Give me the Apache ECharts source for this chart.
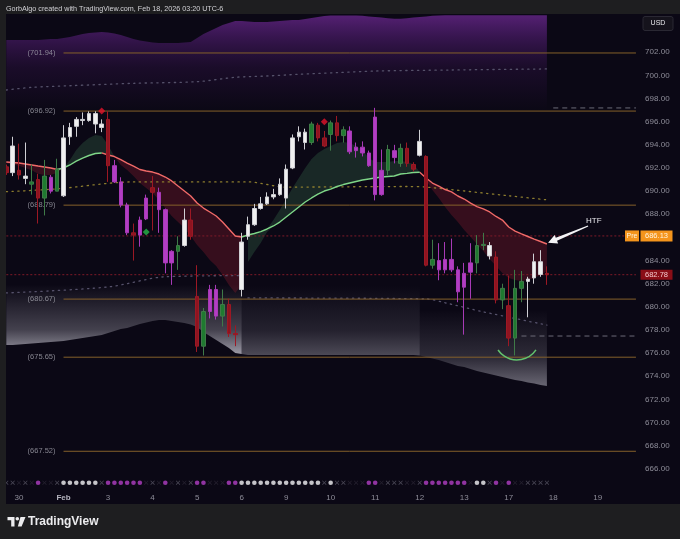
<!DOCTYPE html>
<html><head><meta charset="utf-8">
<script src="https://cdn.jsdelivr.net/npm/echarts@6/dist/echarts.min.js"></script>
<style>html,body{margin:0;padding:0;background:#0b0815;}#c{width:680px;height:539px;}</style>
</head><body><div id="c"></div>
<script>
// ---------- time axis ----------
const dayLabels = ['29','30','Feb','3','4','5','6','9','10','11','12','13','17','18','19'];
const BARS_PER_DAY = 7;
const FIRST_DAY_OFFSET = 5;

// ---------- candles (hourly) ----------
const openP  = [692.1,691.6,691.8,691.1,690.6,691.0,689.4,691.2,690.0,689.6,694.7,695.6,696.1,696.1,696.7,695.8,696.2,692.2,690.8,688.8,686.4,686.2,687.6,690.3,689.9,688.4,683.8,684.8,685.3,687.5,680.9,676.6,679.6,681.5,679.2,680.2,677.7,681.5,686.1,687.1,688.5,688.9,689.5,689.7,689.4,692.0,694.7,694.2,694.2,695.7,694.6,694.9,695.9,694.8,695.2,693.8,693.3,693.3,696.4,689.7,691.8,693.5,692.4,693.7,692.3,693.1,693.0,683.6,684.0,683.2,684.1,683.2,681.7,683.0,683.8,685.3,684.4,684.3,680.6,680.1,677.3,681.6,682.2,682.5,682.8,682.9];
const closeP = [691.6,693.9,691.4,691.3,690.8,689.4,691.3,690.0,691.9,694.6,695.5,696.2,696.2,696.7,695.8,695.5,692.2,690.8,688.8,686.4,686.2,687.5,689.4,689.9,688.4,683.8,684.8,685.3,687.5,686.1,676.6,679.6,681.5,679.2,680.2,677.7,677.6,685.6,687.1,688.5,688.9,689.5,689.7,690.6,691.9,694.6,695.1,695.1,695.8,694.6,693.9,695.9,694.8,695.3,693.4,693.5,693.8,692.2,689.7,691.8,693.6,692.9,693.7,692.4,691.9,694.3,683.6,684.1,683.2,684.1,683.2,681.3,682.9,683.8,685.3,685.4,685.3,680.6,681.6,677.3,681.6,682.2,682.4,683.9,683.9,682.78];
const lowP   = [691.4,691.3,691.0,690.6,689.7,687.2,687.9,689.8,690.0,689.5,694.0,694.7,695.7,696.0,695.0,695.1,690.8,690.7,688.6,686.2,684.0,685.2,687.5,686.6,686.4,682.9,681.9,683.2,685.2,685.8,676.1,675.8,679.0,678.9,678.3,677.4,676.6,680.9,685.8,687.0,688.4,688.8,689.3,689.6,688.5,691.9,694.3,693.6,694.0,694.3,693.8,693.5,694.3,694.2,693.2,692.9,693.0,692.1,689.2,689.6,691.4,692.4,692.1,692.1,691.7,693.0,683.5,683.3,682.3,682.9,683.0,680.4,677.6,680.7,682.9,684.9,684.1,680.3,679.8,676.6,675.8,680.4,679.1,682.0,682.6,681.9];
const highP  = [692.3,694.7,694.1,694.2,692.3,691.5,692.7,691.4,692.8,695.7,695.9,696.4,696.8,696.9,696.9,696.2,696.9,692.7,691.2,689.0,687.2,687.8,689.7,691.3,690.3,688.5,684.9,686.1,688.5,688.5,683.6,679.9,681.9,681.9,681.5,680.7,678.4,686.4,687.8,688.9,689.5,689.9,690.2,691.1,692.3,694.9,695.6,695.4,696.0,695.9,695.2,696.1,696.5,695.6,695.6,694.2,694.3,693.5,697.2,693.6,694.0,694.0,694.1,694.2,692.5,695.3,693.1,685.8,685.5,685.6,685.9,683.5,683.8,685.5,686.2,686.4,685.6,684.8,682.0,682.7,683.2,683.1,682.6,684.6,684.9,683.5];
const candleKind = ['r','w','r','w','g','r','g','p','g','w','w','w','w','w','w','w','r','p','p','p','r','p','p','r','p','p','p','g','w','r','r','g','p','p','g','r','r','w','w','w','w','w','w','w','w','w','w','w','g','r','r','g','r','g','p','p','p','p','p','p','g','p','g','r','r','w','r','g','p','p','p','p','p','p','g','g','w','r','g','r','g','g','w','w','w','r'];

// ---------- trend lines ----------
const slowLine = [692.52,692.48,692.43,692.35,692.26,692.17,692.09,692.00,691.87,692.00,692.26,692.60,692.86,693.08,693.25,693.30,693.12,692.99,692.73,692.43,692.17,691.87,691.74,691.65,691.48,691.22,690.88,690.44,690.01,689.58,688.97,688.54,688.20,687.85,687.33,686.73,686.12,686.04,686.21,686.34,686.50,686.73,686.99,687.33,687.77,688.20,688.63,689.06,689.41,689.75,690.01,690.18,690.40,690.57,690.70,690.83,690.96,691.05,691.14,691.22,691.27,691.31,691.48,691.54,691.61,691.63,691.14,690.70,690.44,690.14,689.93,689.58,689.32,688.97,688.67,688.46,688.20,687.81,687.50,686.90,686.55,686.30,686.08,685.86,685.65,685.43];
const fastLine = [692.40,692.30,692.20,692.00,691.80,691.50,691.40,691.40,691.60,692.00,692.69,693.56,694.16,694.59,694.85,694.77,693.99,693.00,692.26,691.83,691.31,690.70,690.27,689.84,689.23,688.54,687.85,687.33,686.81,686.12,685.35,684.74,684.05,683.53,682.75,681.89,681.20,681.89,683.87,684.74,685.52,686.47,687.51,688.37,689.32,690.27,691.14,692.00,692.78,693.30,693.64,693.90,694.16,694.25,694.16,693.90,693.56,692.86,692.52,692.52,692.52,692.61,692.61,692.52,692.35,691.65,690.96,690.10,689.41,688.63,687.94,687.33,686.64,686.04,685.43,684.83,684.13,683.53,682.92,682.49,682.32,682.23,682.32,682.49,682.75,683.10];
const slowRedSegs = [[0,8],[15,37],[65,85]];
const slowGreenSegs = [[8,15],[37,65]];
const ribbonRedSegs = [[0,9],[17,37],[65,85]];
const ribbonGreenSegs = [[9,17],[38,65]];

// ---------- clouds ----------
const topCloud = [703.06,703.06,703.06,703.06,703.06,703.06,703.11,703.15,703.15,703.24,703.32,703.45,703.58,703.67,703.71,703.75,703.71,703.62,703.50,703.32,703.15,703.02,702.93,702.85,702.80,702.80,702.80,702.80,702.85,702.89,703.24,703.58,703.84,704.10,704.36,704.53,704.71,704.71,704.66,704.62,704.62,704.62,704.66,704.71,704.75,704.79,704.79,704.88,704.97,705.05,705.14,705.18,705.18,705.18,705.18,705.18,705.15,705.10,705.05,705.00,704.95,704.90,704.90,704.95,705.00,705.05,705.10,705.15,705.18,705.20,705.20,705.20,705.20,705.20,705.20,705.20,705.20,705.20,705.20,705.20,705.20,705.20,705.20,705.20,705.20,705.20];
const bottomCloud = [676.70,676.70,676.74,676.79,676.83,676.87,676.91,676.96,677.00,677.05,677.13,677.22,677.31,677.39,677.48,677.57,677.74,677.91,678.08,678.17,678.34,678.51,678.64,678.78,678.86,678.86,678.78,678.69,678.60,678.47,678.26,677.82,677.48,677.13,676.79,676.44,676.01,675.92,675.84,675.84,675.84,675.84,675.84,675.84,675.84,675.84,675.84,675.84,675.84,675.84,675.84,675.84,675.84,675.84,675.84,675.84,675.84,675.84,675.84,675.84,675.84,675.84,675.84,675.84,675.84,675.80,675.67,675.54,675.41,675.24,675.06,674.89,674.80,674.63,674.46,674.33,674.20,674.07,673.94,673.81,673.68,673.59,673.46,673.38,673.25,673.16];
const bottomCloudSegs = [[0,37],[37,65],[65,85]];

// ---------- dotted guides [bar, price] ----------
const upperGreyDots = [[0,698.74],[4,698.97],[10,699.11],[20,699.32],[30,699.46],[36,699.84],[41,699.95],[46,700.10],[52,700.24],[58,700.38],[70,700.47],[85,700.56]];
const oliveDots = [[0,689.95],[8,690.2],[20,690.8],[38,690.8],[44,690.35],[63,690.4],[66,690.35],[79,689.6],[85,689.25]];
const lowerGreyDotsA = [[0,681.2],[16,681.72],[25,682.6],[37,682.7]];
const lowerGreyDotsB = [[38,680.77],[66,680.69],[69,680.35],[75,679.57],[85,678.43]];

// ---------- levels & markers ----------
const levels = [701.94, 696.92, 688.79, 680.67, 675.65, 667.52];
const LEVEL_START_BAR = 9;
const prePrice = 686.13;
const lastPrice = 682.78;
const greyDashUpper = {fromBar: 86, price: 697.19};
const greyDashLower = {fromBar: 81, price: 677.48};
const redDiamonds = [[15,696.93],[50,696.0]];
const greenDiamonds = [[22,686.47]];
const dotRow = ['x','x','f','x','f','p','f','f','x','w','w','w','w','w','w','x','p','p','p','p','p','p','f','x','f','p','f','x','f','x','p','p','f','f','f','p','p','w','w','w','w','w','w','w','w','w','w','w','w','w','x','w','x','x','f','f','f','p','p','f','x','x','x','f','f','x','p','p','p','p','p','p','p','f','w','w','x','p','f','p','f','f','x','x','x','x'];
const htf = {tipBar: 85, tipPrice: 685.55, tailBar: 91, tailPrice: 686.99, text: 'HTF', textBar: 91, textPrice: 687.45};
const smile = {bar: 80, price: 677.4};

// ---------- build ----------
const categories = [];
dayLabels.forEach((d, di) => {
  for (let k = (di === 0 ? FIRST_DAY_OFFSET : 0); k < BARS_PER_DAY; k++) categories.push(d + '|' + k);
});
const N = categories.length;
const FONT = 'Liberation Sans, Arial, sans-serif';
const kindColor = {r: '#8e1420', w: '#f0f0f0', g: '#1f7a30', p: '#b33dc4'};
const kindWick = {r: '#9c1824', w: '#cfcfd4', g: '#3f7a48', p: '#a73ab6'};

const candleData = openP.map((o, i) => {
  const k = candleKind[i];
  return {value: [o, closeP[i], lowP[i], highP[i]],
    itemStyle: {color: kindColor[k], color0: kindColor[k], borderColor: kindWick[k], borderColor0: kindWick[k]}};
});

function segData(arr, segs) {
  return arr.map((v, i) => segs.some(([a, b]) => i >= a && i <= b) ? v : '-');
}
function pairs(list) { return list.map(([b, v]) => [categories[b], v]); }

const series = [];
// top purple cloud
series.push({type: 'line', data: topCloud, symbol: 'none', lineStyle: {width: 0}, z: 1, silent: true,
  areaStyle: {origin: 'start', color: new echarts.graphic.LinearGradient(0, 0, 0, 1, [
    {offset: 0, color: 'rgba(128,46,170,0.9)'}, {offset: 0.05, color: 'rgba(110,38,152,0.6)'},
    {offset: 0.11, color: 'rgba(90,30,125,0.28)'}, {offset: 0.2, color: 'rgba(90,30,125,0)'}])}});
// bottom white cloud segments
const bottomAlpha = [0.92, 0.42, 0.6];
bottomCloudSegs.forEach((s, si) => {
  series.push({type: 'line', data: segData(bottomCloud, [s]), symbol: 'none', lineStyle: {width: 0}, z: 1, silent: true,
    areaStyle: {origin: 'end', color: new echarts.graphic.LinearGradient(0, 0, 0, 1, [
      {offset: 0, color: 'rgba(230,228,240,0)'}, {offset: 0.8, color: 'rgba(230,228,240,0)'},
      {offset: 0.93, color: 'rgba(230,228,240,' + (bottomAlpha[si] * 0.4) + ')'},
      {offset: 1, color: 'rgba(235,233,245,' + bottomAlpha[si] + ')'}])}});
});
// ribbons
function ribbon(segs, color, name) {
  const base = slowLine.map((v, i) => Math.min(v, fastLine[i]));
  const diff = slowLine.map((v, i) => Math.abs(v - fastLine[i]));
  series.push({type: 'line', stack: name, data: segData(base, segs), symbol: 'none', lineStyle: {width: 0}, z: 2, silent: true});
  series.push({type: 'line', stack: name, data: segData(diff, segs), symbol: 'none', lineStyle: {width: 0}, z: 2, silent: true,
    areaStyle: {color: color}});
}
ribbon(ribbonRedSegs, 'rgba(125,26,44,0.55)', 'ribR');
ribbon(ribbonGreenSegs, 'rgba(52,100,72,0.5)', 'ribG');
// dotted guides
const dotStyle = (c) => ({color: c, width: 1.3, type: [1.3, 4.5], cap: 'round'});
series.push({type: 'line', data: pairs(upperGreyDots), symbol: 'none', smooth: 0.3, lineStyle: dotStyle('#55516a'), z: 3, silent: true});
series.push({type: 'line', data: pairs(oliveDots), symbol: 'none', smooth: 0.3, lineStyle: dotStyle('#8d7d2e'), z: 3, silent: true});
series.push({type: 'line', data: pairs(lowerGreyDotsA), symbol: 'none', smooth: 0.3, lineStyle: dotStyle('#55516a'), z: 3, silent: true});
series.push({type: 'line', data: pairs(lowerGreyDotsB), symbol: 'none', smooth: 0.3, lineStyle: dotStyle('#55516a'), z: 3, silent: true});
// level lines (orange) as line series, labels via a scatter at the start point
levels.forEach(v => {
  series.push({type: 'line', data: [[categories[LEVEL_START_BAR], v], [categories[N - 1], v]], symbol: 'none',
    lineStyle: {color: '#85602a', width: 1}, z: 3, silent: true});
});
series.push({type: 'scatter', data: levels.map(v => [categories[LEVEL_START_BAR], v]), symbolSize: 0, z: 3, silent: true,
  label: {show: true, position: 'left', distance: 8, color: '#a3a2ad', fontSize: 7.5, fontFamily: FONT,
    formatter: (p) => '(' + p.value[1].toFixed(2) + ')'}});
// pre / last price lines (red dotted)
[prePrice, lastPrice].forEach(v => {
  series.push({type: 'line', data: [[categories[0], v], [categories[N - 1], v]], symbol: 'none',
    lineStyle: {color: '#7e1a28', width: 1, type: [2, 2]}, z: 3, silent: true});
});
// grey dashed lines
[greyDashUpper, greyDashLower].forEach(d => {
  series.push({type: 'line', data: [[categories[d.fromBar], d.price], [categories[N - 1], d.price]], symbol: 'none',
    lineStyle: {color: '#6c6b78', width: 1, type: [5, 4]}, z: 3, silent: true});
});
// slow line
series.push({type: 'line', data: segData(slowLine, slowRedSegs), symbol: 'none', lineStyle: {color: '#f06a68', width: 1.4}, z: 4, silent: true});
series.push({type: 'line', data: segData(slowLine, slowGreenSegs), symbol: 'none', lineStyle: {color: '#7fd688', width: 1.4}, z: 4, silent: true});
// candles
series.push({type: 'candlestick', data: candleData, barWidth: 4, z: 5, silent: true, itemStyle: {borderWidth: 1}});
// markers
series.push({type: 'scatter', data: pairs(redDiamonds), symbol: 'diamond', symbolSize: 7, itemStyle: {color: '#e3142b'}, z: 6, silent: true});
series.push({type: 'scatter', data: pairs(greenDiamonds), symbol: 'diamond', symbolSize: 7, itemStyle: {color: '#27b548'}, z: 6, silent: true});
// dot row
const X_PATH = 'path://M1.2,0L5,3.8L8.8,0L10,1.2L6.2,5L10,8.8L8.8,10L5,6.2L1.2,10L0,8.8L3.8,5L0,1.2Z';
const dotStyleMap = {
  w: {symbol: 'circle', size: 4.6, color: '#f4f4f6'},
  p: {symbol: 'circle', size: 4.6, color: '#b13ec4'},
  x: {symbol: X_PATH, size: 4.4, color: '#5a5866'},
  f: {symbol: X_PATH, size: 4.4, color: '#2a2634'}
};
series.push({type: 'scatter', xAxisIndex: 1, yAxisIndex: 1, silent: true, z: 6,
  data: dotRow.map((c, i) => ({value: [categories[i], 0], symbol: dotStyleMap[c].symbol, symbolSize: dotStyleMap[c].size, itemStyle: {color: dotStyleMap[c].color}}))});

const chart = echarts.init(document.getElementById('c'), null, {renderer: 'canvas'});
const option = {
  animation: false,
  backgroundColor: '#0b0815',
  grid: [
    {left: 3.12, width: 636, top: 6, height: 486},
    {left: 3.12, width: 636, top: 477.7, height: 10}
  ],
  xAxis: [
    {type: 'category', data: categories, boundaryGap: true, gridIndex: 0,
      axisLine: {show: false}, axisTick: {show: false}, splitLine: {show: false},
      axisLabel: {margin: 2, fontSize: 8, color: '#8e8d99', fontFamily: FONT,
        interval: (idx, val) => val.split('|')[1] === '0',
        formatter: (val) => { const d = val.split('|')[0]; return d === 'Feb' ? '{b|Feb}' : d; },
        rich: {b: {fontSize: 8, fontWeight: 'bold', color: '#b4b3be', fontFamily: FONT}}}},
    {type: 'category', data: categories, boundaryGap: true, gridIndex: 1, show: false}
  ],
  yAxis: [
    {type: 'value', position: 'right', min: 664, max: 706, interval: 2, gridIndex: 0,
      axisLine: {show: false}, axisTick: {show: false}, splitLine: {show: false},
      axisLabel: {margin: 6, fontSize: 8, color: '#8e8d99', fontFamily: FONT,
        formatter: (v) => (v < 666 || v > 702) ? '' : v.toFixed(2)}},
    {type: 'value', min: -1, max: 1, gridIndex: 1, show: false}
  ],
  series: series
};
chart.setOption(option);

// ---------- overlays positioned through the axes ----------
const px = (bar, price) => chart.convertToPixel({gridIndex: 0}, [categories[bar], price]);
const preY = px(0, prePrice)[1];
const lastY = px(0, lastPrice)[1];
const tip = px(htf.tipBar, htf.tipPrice); tip[0] += 1.2;
const tail = px(htf.tailBar, htf.tailPrice); tail[0] += 3;
const tpos = px(htf.textBar, htf.textPrice);
const dx = tip[0] - tail[0], dy = tip[1] - tail[1], L = Math.hypot(dx, dy);
const ux = dx / L, uy = dy / L, nx = -uy, ny = ux;
const neck = [tip[0] - ux * 9, tip[1] - uy * 9];
const P = (p, s) => [p[0] + nx * s, p[1] + ny * s];
const arrowPts = [P(tail, 0.5), P(neck, 1.6), P(neck, 4.6), tip, P(neck, -4.6), P(neck, -1.6), P(tail, -0.5)];
const sm = px(smile.bar, smile.price);

const frame = '#1e1e20';
chart.setOption({graphic: [
  {type: 'rect', shape: {x: 0, y: 0, width: 680, height: 14}, style: {fill: frame}, z: 100, silent: true},
  {type: 'rect', shape: {x: 0, y: 0, width: 6, height: 539}, style: {fill: frame}, z: 100, silent: true},
  {type: 'rect', shape: {x: 0, y: 504, width: 680, height: 35}, style: {fill: frame}, z: 100, silent: true},
  {type: 'text', x: 6, y: 9, style: {text: 'GorbAlgo created with TradingView.com, Feb 18, 2026 03:20 UTC-6', fill: '#d2d2d6', fontSize: 7.2, fontFamily: FONT, verticalAlign: 'middle'}, z: 101, silent: true},
  // USD box
  {type: 'rect', shape: {x: 643, y: 16.5, width: 30, height: 14, r: 2}, style: {fill: '#15131c', stroke: '#2a2833', lineWidth: 1}, z: 101, silent: true},
  {type: 'text', x: 658, y: 23.5, style: {text: 'USD', fill: '#e6e6ea', fontSize: 7, fontFamily: FONT, align: 'center', verticalAlign: 'middle'}, z: 102, silent: true},
  // Pre label
  {type: 'rect', shape: {x: 625, y: preY - 5.5, width: 14, height: 11}, style: {fill: '#f4941c'}, z: 101, silent: true},
  {type: 'text', x: 632, y: preY, style: {text: 'Pre', fill: '#fff3de', fontSize: 7, fontFamily: FONT, align: 'center', verticalAlign: 'middle'}, z: 102, silent: true},
  {type: 'rect', shape: {x: 640.5, y: preY - 5.5, width: 32, height: 11}, style: {fill: '#f4941c'}, z: 101, silent: true},
  {type: 'text', x: 656.5, y: preY, style: {text: prePrice.toFixed(2), fill: '#fff3de', fontSize: 7.5, fontFamily: FONT, align: 'center', verticalAlign: 'middle'}, z: 102, silent: true},
  // last price label
  {type: 'rect', shape: {x: 640.5, y: lastY - 5, width: 32, height: 10}, style: {fill: '#8a0e17'}, z: 101, silent: true},
  {type: 'text', x: 656.5, y: lastY, style: {text: lastPrice.toFixed(2), fill: '#f4c8cc', fontSize: 7.5, fontFamily: FONT, align: 'center', verticalAlign: 'middle'}, z: 102, silent: true},
  // HTF arrow
  {type: 'polygon', shape: {points: arrowPts}, style: {fill: '#f4f4f6'}, z: 50, silent: true},
  {type: 'text', x: tpos[0] + 1, y: tpos[1], style: {text: htf.text, fill: '#e8e8ec', fontSize: 8, fontFamily: FONT, verticalAlign: 'middle'}, z: 50, silent: true},
  // smile arc
  {type: 'arc', shape: {cx: sm[0] + 1.9, cy: sm[1], r: 23, startAngle: 0.6, endAngle: 2.54, clockwise: true}, style: {stroke: '#62c36e', lineWidth: 1.5, fill: 'none'}, z: 50, silent: true},
  // TradingView logo
  {type: 'polygon', shape: {points: [[7.5, 517], [14.5, 517], [14.5, 526.5], [11.2, 526.5], [11.2, 520.3], [7.5, 520.3]]}, style: {fill: '#ececee'}, z: 101, silent: true},
  {type: 'circle', shape: {cx: 17.3, cy: 518.8, r: 1.8}, style: {fill: '#ececee'}, z: 101, silent: true},
  {type: 'polygon', shape: {points: [[20.5, 517], [25.5, 517], [21.6, 526.5], [17.8, 526.5]]}, style: {fill: '#ececee'}, z: 101, silent: true},
  {type: 'text', x: 28, y: 522, style: {text: 'TradingView', fill: '#ececee', fontSize: 12, fontWeight: 'bold', fontFamily: FONT, verticalAlign: 'middle'}, z: 101, silent: true}
]});
</script>
</body></html>
